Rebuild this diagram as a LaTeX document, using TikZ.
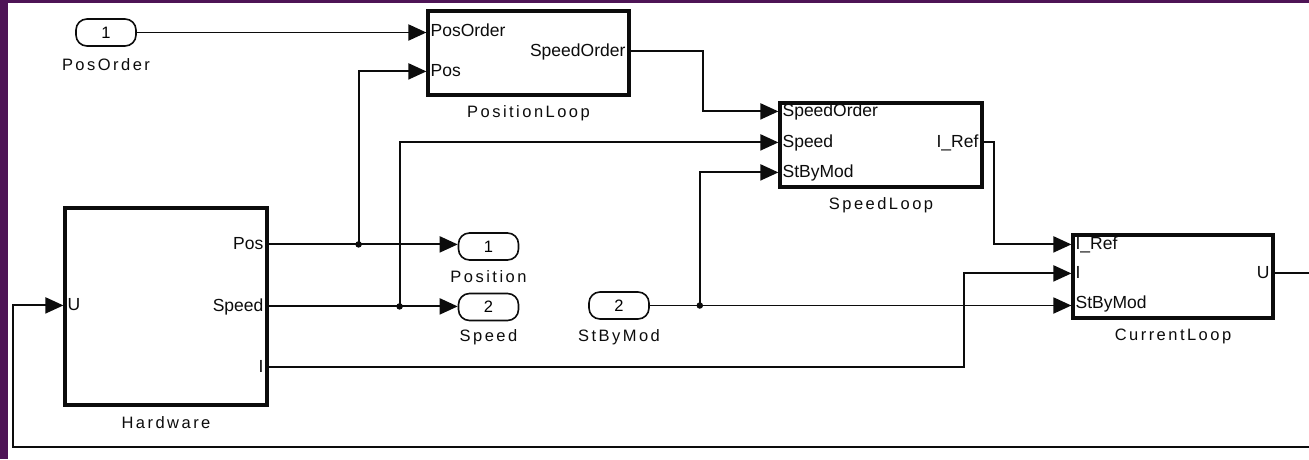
\documentclass[tikz,border=0pt]{standalone}
\usepackage{fontspec}
\setmainfont{Liberation Sans}
\newfontfamily\lblfont[LetterSpace=15]{Liberation Sans}
\usetikzlibrary{arrows.meta,calc}
\definecolor{frame}{RGB}{78,20,86}
\definecolor{ink}{RGB}{12,12,12}
\begin{document}
\begin{tikzpicture}[x=1pt,y=-1pt,
  blk/.style={draw=ink, line width=3.2pt, inner sep=0pt},
  prt/.style={draw=ink, line width=1.6pt, rounded corners=11pt, minimum width=60pt, minimum height=27pt, inner sep=0pt, font=\fontsize{16.5}{18}\selectfont},
  sig/.style={draw=ink, line width=1.9pt},
  arr/.style={sig, -{Triangle[length=18pt,width=16pt]}},
  plab/.style={font=\fontsize{17.5}{19}\selectfont, inner sep=0pt, text height=12.5pt, text depth=2pt, text=ink},
  blab/.style={font=\lblfont\fontsize{16.5}{18}\selectfont, inner sep=0pt, text=ink},
  jdot/.style={circle, fill=ink, inner sep=0pt, minimum size=6.5pt}]
\useasboundingbox (0,0) rectangle (1309,459);
\clip (0,0) rectangle (1309,459);
\fill[white] (0,0) rectangle (1309,459);
\fill[frame] (0,0) rectangle (7.5,459);
\fill[frame] (0,0) rectangle (1309,2.5);

% blocks
\node[blk, minimum width=201pt, minimum height=84pt] (pl) at (528.5,53) {};
\node[blk, minimum width=202pt, minimum height=84pt] (sl) at (881,145) {};
\node[blk, minimum width=200pt, minimum height=83pt] (cl) at (1173,276.5) {};
\node[blk, minimum width=202pt, minimum height=197pt] (hw) at (166,306.5) {};

% ports (in/out)
\node[prt] (in1) at (106,32.5) {1};
\node[prt] (out1) at (488.5,246.5) {1};
\node[prt] (out2) at (488.5,307) {2};
\node[prt] (in2) at (619,305.5) {2};

% labels
\node[blab] (lin1) at (106,65) {PosOrder};
\node[blab] (lout1) at (488.5,277) {Position};
\node[blab] (lout2) at (488.5,337) {Speed};
\node[blab] (lin2) at (619,337) {StByMod};
\node[blab] (lpl) at (528.5,113) {PositionLoop};
\node[blab] (lsl) at (881,205) {SpeedLoop};
\node[blab] (lcl) at (1173,336) {CurrentLoop};
\node[blab] (lhw) at (166,423) {Hardware};

% port coordinates
\coordinate (pl-i1) at ($(pl.north west)+(0,21.5)$);
\coordinate (pl-i2) at ($(pl.north west)+(0,62)$);
\coordinate (pl-o1) at ($(pl.north east)+(0,42)$);
\coordinate (sl-i1) at ($(sl.north west)+(0,10)$);
\coordinate (sl-i2) at ($(sl.north west)+(0,41)$);
\coordinate (sl-i3) at ($(sl.north west)+(0,71)$);
\coordinate (sl-o1) at ($(sl.north east)+(0,41)$);
\coordinate (cl-i1) at ($(cl.north west)+(0,11)$);
\coordinate (cl-i2) at ($(cl.north west)+(0,40)$);
\coordinate (cl-i3) at ($(cl.north west)+(0,70)$);
\coordinate (cl-o1) at ($(cl.north east)+(0,40)$);
\coordinate (hw-i1) at ($(hw.north west)+(0,99)$);
\coordinate (hw-o1) at ($(hw.north east)+(0,38)$);
\coordinate (hw-o2) at ($(hw.north east)+(0,100)$);
\coordinate (hw-o3) at ($(hw.north east)+(0,161)$);

% port texts
\node[plab, anchor=west] (tpl1) at ($(pl-i1)+(4,0)$) {PosOrder};
\node[plab, anchor=west] (tpl2) at ($(pl-i2)+(4,0)$) {Pos};
\node[plab, anchor=east] (tpl3) at ($(pl-o1)+(-5,0)$) {SpeedOrder};
\node[plab, anchor=west] (tsl1) at ($(sl-i1)+(4,0)$) {SpeedOrder};
\node[plab, anchor=west] (tsl2) at ($(sl-i2)+(4,0)$) {Speed};
\node[plab, anchor=west] (tsl3) at ($(sl-i3)+(4,0)$) {StByMod};
\node[plab, anchor=east] (tsl4) at ($(sl-o1)+(-5,0)$) {I\_Ref};
\node[plab, anchor=west] (tcl1) at ($(cl-i1)+(4,0)$) {I\_Ref};
\node[plab, anchor=west] (tcl2) at ($(cl-i2)+(4,0)$) {I};
\node[plab, anchor=west] (tcl3) at ($(cl-i3)+(4,0)$) {StByMod};
\node[plab, anchor=east] (tcl4) at ($(cl-o1)+(-5,0)$) {U};
\node[plab, anchor=west] (thw1) at ($(hw-i1)+(4,0)$) {U};
\node[plab, anchor=east] (thw2) at ($(hw-o1)+(-5,0)$) {Pos};
\node[plab, anchor=east] (thw3) at ($(hw-o2)+(-5,0)$) {Speed};
\node[plab, anchor=east] (thw4) at ($(hw-o3)+(-5,0)$) {I};

% connectors
\draw[arr] (in1.east) -- (in1.east -| pl.west);
\draw[arr] (hw-o1) -- (hw-o1 -| out1.west);
\node[jdot] (j1) at ($(hw-o1)+(90,0)$) {};
\draw[arr] (j1.center) |- (pl-i2);
\draw[arr] (hw-o2) -- (hw-o2 -| out2.west);
\node[jdot] (j2) at ($(hw-o2)+(131,0)$) {};
\draw[arr] (j2.center) |- (sl-i2);
\draw[arr] (pl-o1) -- ++(72,0) |- (sl-i1);
\draw[arr] (in2.east) -- (in2.east -| cl.west);
\node[jdot] (j3) at ($(in2.east)+(50,0)$) {};
\draw[arr] (j3.center) |- (sl-i3);
\draw[arr] (sl-o1) -- ++(10,0) |- (cl-i1);
\draw[arr] (hw-o3) -- ++(695,0) |- (cl-i2);
\draw[arr] (cl-o1) -- ++(60,0) |- ($(hw-i1)+(-50,142)$) |- (hw-i1);
\end{tikzpicture}
\end{document}
